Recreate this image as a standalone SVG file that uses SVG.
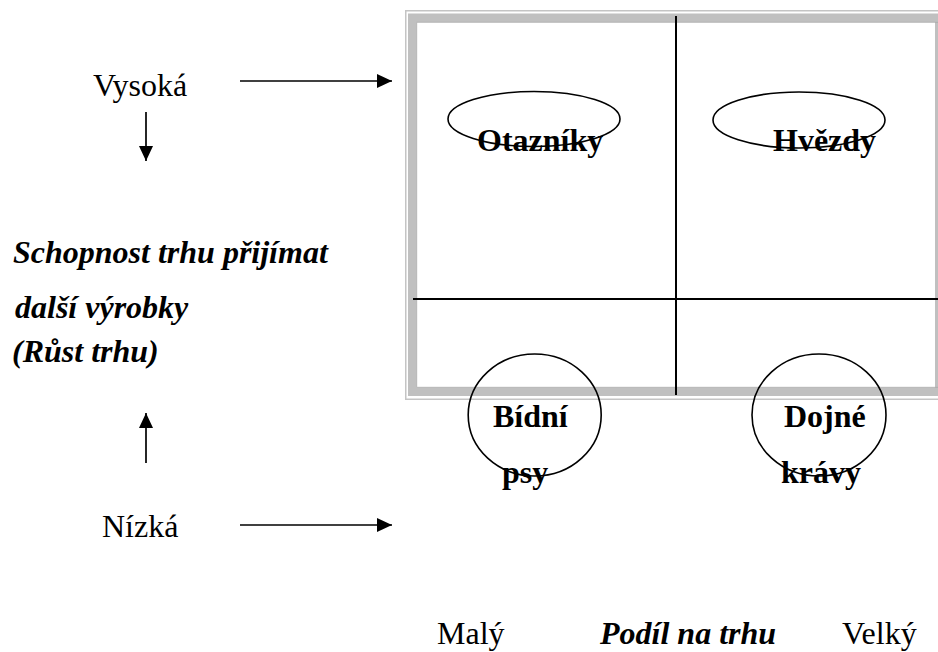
<svg xmlns="http://www.w3.org/2000/svg" width="938" height="652" viewBox="0 0 938 652">
  <style>
    .lbl { font-family: "Liberation Serif", "Times New Roman", serif; font-size: 32px; fill: #000; }
    .b { font-weight: bold; }
    .bi { font-weight: bold; font-style: italic; }
    .shape { fill: none; stroke: #000; stroke-width: 1.6; }
    .grid { stroke: #000; stroke-width: 2; }
    .arrow { fill: none; stroke: #000; stroke-width: 1.7; marker-end: url(#head); }
  </style>
  <defs>
    <marker id="head" viewBox="0 0 15 14" refX="15" refY="7" markerWidth="15" markerHeight="14" markerUnits="userSpaceOnUse" orient="auto">
      <path d="M0,0 L15,7 L0,14 Z" fill="#000"/>
    </marker>
  </defs>
  <rect width="938" height="652" fill="#fff"/>

  <!-- double border of the matrix -->
  <g id="frame">
    <rect x="405.75" y="10.75" width="545" height="388.5" fill="none" stroke="#c4c4c4" stroke-width="1.5"/>
    <rect x="412.25" y="17.75" width="527" height="374" fill="none" stroke="#c0c0c0" stroke-width="8.5"/>
    <rect x="416.75" y="22.25" width="530" height="365" fill="none" stroke="#a8a8a8" stroke-width="0.8"/>
  </g>

  <!-- quadrant dividers -->
  <g id="grid">
    <line class="grid" x1="676" y1="16" x2="676" y2="395"/>
    <line class="grid" x1="413" y1="299" x2="938" y2="299"/>
  </g>

  <g id="connectors">
    <path class="arrow" d="M240,81 H392"/>
    <path class="arrow" d="M146,112 V161"/>
    <path class="arrow" d="M146,463 V413"/>
    <path class="arrow" d="M240,525 H392"/>
  </g>

  <g id="otazniky">
    <ellipse class="shape" cx="534" cy="119" rx="86" ry="27.5"/>
    <text class="lbl b" x="477" y="151">Otazníky</text>
  </g>
  <g id="hvezdy">
    <ellipse class="shape" cx="799" cy="120" rx="86" ry="28"/>
    <text class="lbl b" x="773" y="151">Hvězdy</text>
  </g>
  <g id="bidni-psy">
    <ellipse class="shape" cx="534.7" cy="415" rx="66.5" ry="61"/>
    <text class="lbl b" x="493" y="427">Bídní</text>
    <text class="lbl b" x="502" y="483">psy</text>
  </g>
  <g id="dojne-kravy">
    <ellipse class="shape" cx="819" cy="415" rx="67" ry="61"/>
    <text class="lbl b" x="784" y="427">Dojné</text>
    <text class="lbl b" x="781" y="483">krávy</text>
  </g>

  <g id="vysoka">
    <text class="lbl" x="93" y="96">Vysoká</text>
  </g>
  <g id="nizka">
    <text class="lbl" x="102" y="537">Nízká</text>
  </g>
  <g id="axis-y">
    <text class="lbl bi" x="13" y="263">Schopnost trhu přijímat</text>
    <text class="lbl bi" x="15" y="318">další výrobky</text>
    <text class="lbl bi" x="12" y="362">(Růst trhu)</text>
  </g>
  <g id="axis-x">
    <text class="lbl" x="437" y="644">Malý</text>
    <text class="lbl bi" x="600" y="644">Podíl na trhu</text>
    <text class="lbl" x="842" y="644">Velký</text>
  </g>
</svg>
